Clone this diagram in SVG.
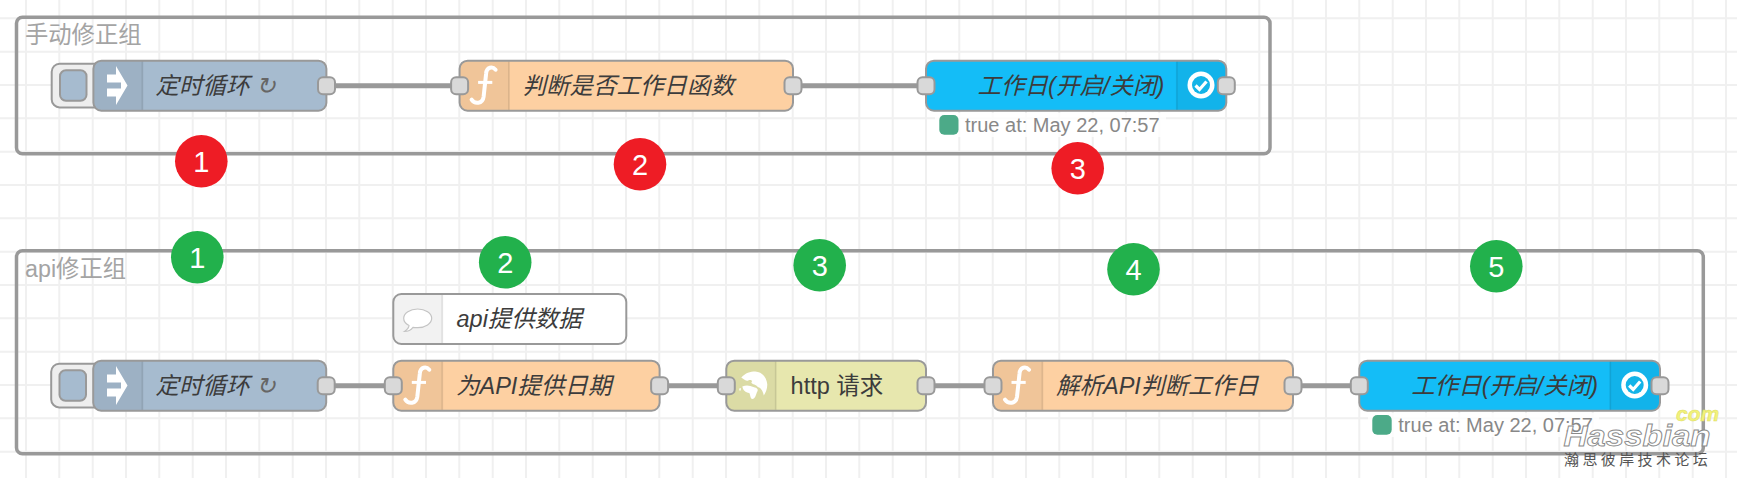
<svg xmlns="http://www.w3.org/2000/svg" width="1737" height="478" viewBox="0 0 1737 478">
<style>
text{font-family:"Liberation Sans","Noto Sans CJK SC",sans-serif}
.grid{stroke:#f0f0f0;stroke-width:2;fill:none}
.group{fill:none;stroke:#999;stroke-width:3.5}
.gl{font-size:23.3px;fill:#a4a4a4}
.node{stroke:#999;stroke-width:2}
.icon{fill:#000;fill-opacity:.05}
.div{stroke:#000;stroke-opacity:.1;stroke-width:1.7}
.lbl{font-size:23.5px;fill:#3c3c3c;font-style:italic}
.plain{font-style:normal}
.loop{fill:#666;font-weight:normal}
.port{fill:#d9d9d9;stroke:#999;stroke-width:2}
.wire{stroke:#999;stroke-width:5;fill:none}
.st{font-size:20px;fill:#888}
.stbg{fill:#fff;fill-opacity:.8}
.num{font-size:29px;fill:#fff;text-anchor:middle}
.red{fill:#ee1c25}
.green{fill:#22b14c}
.fn{fill:none;stroke:#fff;stroke-width:4;stroke-linecap:round}
.fb{fill:none;stroke:#fff;stroke-width:3}
</style>
<defs>
<g id="ficon"><path class="fn" d="M36 9C33 5.5 27 6 26.5 13L24 36C23 43.5 15 43.5 12 39"/><path class="fb" d="M18.5 21.7H32.7"/></g>
<path id="arrow" fill="#fff" d="M107 74.5H116V66L127.5 85.5L116 105V96.5H107V88.5H121V82.5H107Z"/>
<g id="check"><circle r="13.5" fill="#fff"/><circle r="9" fill="#14b4e8"/><path d="M-5.5 0.5L-1.5 4.5L5.5 -3.5" fill="none" stroke="#fff" stroke-width="3.2"/></g>
</defs>
<g id="grid" class="grid">
<path d="M26 0V478M59.3 0V478M92.7 0V478M126 0V478M159.3 0V478M192.7 0V478M226 0V478M259.3 0V478M292.7 0V478M326 0V478M359.3 0V478M392.7 0V478M426 0V478M459.3 0V478M492.7 0V478M526 0V478M559.3 0V478M592.7 0V478M626 0V478M659.3 0V478M692.7 0V478M726 0V478M759.3 0V478M792.7 0V478M826 0V478M859.3 0V478M892.7 0V478M926 0V478M959.3 0V478M992.7 0V478M1026 0V478M1059.3 0V478M1092.7 0V478M1126 0V478M1159.3 0V478M1192.7 0V478M1226 0V478M1259.3 0V478M1292.7 0V478M1326 0V478M1359.3 0V478M1392.7 0V478M1426 0V478M1459.3 0V478M1492.7 0V478M1526 0V478M1559.3 0V478M1592.7 0V478M1626 0V478M1659.3 0V478M1692.7 0V478M1726 0V478"/>
<path d="M0 18.3H1737M0 51.7H1737M0 85H1737M0 118.3H1737M0 151.7H1737M0 185H1737M0 218.3H1737M0 251.7H1737M0 285H1737M0 318.3H1737M0 351.7H1737M0 385H1737M0 418.3H1737M0 451.7H1737"/>
</g>
<g id="group-manual"><rect class="group" x="16.5" y="17.2" width="1253.5" height="136.5" rx="6"/><text class="gl" x="25" y="43">手动修正组</text></g>
<g id="group-api"><rect class="group" x="16.5" y="250.7" width="1686.8" height="203" rx="6"/><text class="gl" x="25" y="277">api修正组</text></g>
<g id="connectors">
<path class="wire" d="M326.5 85.7H459.6"/><path class="wire" d="M793 85.7H926"/>
<path class="wire" d="M326 385.7H393.3"/><path class="wire" d="M659.6 385.7H726.3"/><path class="wire" d="M926 385.7H993"/><path class="wire" d="M1293 385.7H1359.3"/>
</g>
<g id="n1-inject">
<rect class="node" x="51.7" y="63.8" width="60" height="43.6" rx="8" fill="#eee"/><rect class="node" x="60" y="70.3" width="26.5" height="30.4" rx="6" fill="#a6bbcf"/>
<rect class="node" x="93.4" y="60.7" width="233" height="50" rx="8" fill="#a6bbcf"/><path class="icon" d="M142.4 61.7H101.4a7 7 0 0 0-7 7V102.7a7 7 0 0 0 7 7H142.4Z"/><path class="div" d="M142.4 61.7V109.7"/><use href="#arrow"/>
<text class="lbl" x="155.5" y="94">定时循环 <tspan class="loop">↻</tspan></text><rect class="port" x="318" y="77.2" width="17" height="17" rx="5"/>
</g>
<g id="n2-function">
<rect class="node" x="459.6" y="60.7" width="333.4" height="50" rx="8" fill="#fdd0a2"/><path class="icon" d="M509 61.7H467.6a7 7 0 0 0-7 7V102.7a7 7 0 0 0 7 7H509Z"/><path class="div" d="M509 61.7V109.7"/><use href="#ficon" x="459.6" y="60.7"/>
<text class="lbl" x="522.5" y="94">判断是否工作日函数</text><rect class="port" x="451.1" y="77.2" width="17" height="17" rx="5"/><rect class="port" x="784.5" y="77.2" width="17" height="17" rx="5"/>
</g>
<g id="n3-switch">
<rect class="node" x="926" y="60.7" width="300.3" height="50" rx="8" fill="#14bdf7"/><path d="M1176.8 61.7H1218.3a7 7 0 0 1 7 7V102.7a7 7 0 0 1-7 7H1176.8Z" fill="#000" fill-opacity=".05"/><path class="div" d="M1176.8 61.7V109.7"/><use href="#check" x="1201" y="85"/>
<text class="lbl" x="977.6" y="94">工作日(开启/关闭)</text><rect class="port" x="917.5" y="77.2" width="17" height="17" rx="5"/><rect class="port" x="1217.8" y="77.2" width="17" height="17" rx="5"/>
<rect class="stbg" x="935" y="113" width="231" height="24"/><rect x="939.3" y="115" width="19.2" height="19.7" rx="5" fill="#4caa88"/><text class="st" x="965" y="132">true at: May 22, 07:57</text>
</g>
<g id="n4-comment">
<rect class="node" x="393.3" y="294" width="233" height="50" rx="8" fill="#fff"/><path class="icon" d="M442.3 295H401.3a7 7 0 0 0-7 7V336a7 7 0 0 0 7 7H442.3Z"/><path class="div" d="M442.3 295V343"/>
<path d="M404.5 331.5C408 329 409 327.5 409 325.5C405 323.5 403.7 321 403.7 318.3C403.7 313 410 309 417.7 309C425.4 309 431.7 313 431.7 318.3C431.7 323.5 425.4 327.6 417.7 327.6C415.5 327.6 414.5 327.6 413 327.4C411 330 408 331.5 404.5 331.5Z" fill="#fff" stroke="#c4c4c4" stroke-width="1.2"/>
<text class="lbl" x="456.5" y="327">api提供数据</text>
</g>
<g id="n5-inject">
<rect class="node" x="51.2" y="363.8" width="60" height="43.6" rx="8" fill="#eee"/><rect class="node" x="59.5" y="370.3" width="26.5" height="30.4" rx="6" fill="#a6bbcf"/>
<rect class="node" x="93.2" y="360.7" width="233" height="50" rx="8" fill="#a6bbcf"/><path class="icon" d="M142.4 361.7H101.2a7 7 0 0 0-7 7V402.7a7 7 0 0 0 7 7H142.4Z"/><path class="div" d="M142.4 361.7V409.7"/><use href="#arrow" y="300"/>
<text class="lbl" x="155.5" y="394">定时循环 <tspan class="loop">↻</tspan></text><rect class="port" x="317.7" y="377.2" width="17" height="17" rx="5"/>
</g>
<g id="n6-function">
<rect class="node" x="393.3" y="360.7" width="266.3" height="50" rx="8" fill="#fdd0a2"/><path class="icon" d="M442.3 361.7H401.3a7 7 0 0 0-7 7V402.7a7 7 0 0 0 7 7H442.3Z"/><path class="div" d="M442.3 361.7V409.7"/><use href="#ficon" x="393.3" y="360.7"/>
<text class="lbl" x="456" y="394">为API提供日期</text><rect class="port" x="384.8" y="377.2" width="17" height="17" rx="5"/><rect class="port" x="651.1" y="377.2" width="17" height="17" rx="5"/>
</g>
<g id="n7-http">
<rect class="node" x="726.3" y="360.7" width="199.7" height="50" rx="8" fill="#e7e7ae"/><path class="icon" d="M775.7 361.7H734.3a7 7 0 0 0-7 7V402.7a7 7 0 0 0 7 7H775.7Z"/><path class="div" d="M775.7 361.7V409.7"/>
<g transform="translate(753.3 385.5)" fill="#fff"><path d="M-12-8C-8-12.500-3-14 2-14C9-13.500 13.500-8 14-1C14 3 12.500 7 10.500 10C9.500 5.500 8 2.500 4.500 1.500C3-1-1-1-2-3C0-5-3-6-5-5C-7-4-9-6-12-8Z"/><path d="M-11 1C-7-1-3 0 0 1.500C4.500 2.500 5.500 4 3.500 7C2.500 10 1.500 13.500-1 13.500C-3 13.500-3 9-4 7.500C-8 7-10 5-11 1Z"/><path d="M-14 3L-12.500 2.500L-12.500 5L-14 5Z"/></g>
<text class="lbl plain" x="790.6" y="394">http 请求</text><rect class="port" x="717.8" y="377.2" width="17" height="17" rx="5"/><rect class="port" x="917.5" y="377.2" width="17" height="17" rx="5"/>
</g>
<g id="n8-function">
<rect class="node" x="993" y="360.7" width="300" height="50" rx="8" fill="#fdd0a2"/><path class="icon" d="M1042.4 361.7H1001a7 7 0 0 0-7 7V402.7a7 7 0 0 0 7 7H1042.4Z"/><path class="div" d="M1042.4 361.7V409.7"/><use href="#ficon" x="993" y="360.7"/>
<text class="lbl" x="1056" y="394">解析API判断工作日</text><rect class="port" x="984.5" y="377.2" width="17" height="17" rx="5"/><rect class="port" x="1284.5" y="377.2" width="17" height="17" rx="5"/>
</g>
<g id="n9-switch">
<rect class="node" x="1359.3" y="360.7" width="300.7" height="50" rx="8" fill="#14bdf7"/><path d="M1610.3 361.7H1652a7 7 0 0 1 7 7V402.7a7 7 0 0 1-7 7H1610.3Z" fill="#000" fill-opacity=".05"/><path class="div" d="M1610.3 361.7V409.7"/><use href="#check" x="1634.7" y="385"/>
<text class="lbl" x="1411.3" y="394">工作日(开启/关闭)</text><rect class="port" x="1350.8" y="377.2" width="17" height="17" rx="5"/><rect class="port" x="1651.5" y="377.2" width="17" height="17" rx="5"/>
<rect class="stbg" x="1368" y="413" width="231" height="24"/><rect x="1372.3" y="415" width="19.4" height="19.7" rx="5" fill="#4caa88"/><text class="st" x="1398.3" y="432">true at: May 22, 07:57</text>
</g>
<g id="badges-red">
<circle class="red" cx="201.3" cy="161.3" r="26.3"/><text class="num" x="201.3" y="171.5">1</text>
<circle class="red" cx="640" cy="164.3" r="26.3"/><text class="num" x="640" y="174.5">2</text>
<circle class="red" cx="1077.7" cy="168.3" r="26.3"/><text class="num" x="1077.7" y="178.5">3</text>
</g>
<g id="badges-green">
<circle class="green" cx="197.3" cy="257.3" r="26.3"/><text class="num" x="197.3" y="267.5">1</text>
<circle class="green" cx="505.2" cy="262.3" r="26.3"/><text class="num" x="505.2" y="272.5">2</text>
<circle class="green" cx="819.7" cy="265.3" r="26.3"/><text class="num" x="819.7" y="275.5">3</text>
<circle class="green" cx="1133.5" cy="269.3" r="26.3"/><text class="num" x="1133.5" y="279.5">4</text>
<circle class="green" cx="1496.3" cy="266.3" r="26.3"/><text class="num" x="1496.3" y="276.5">5</text>
</g>
<g id="watermark">
<text x="1563.5" y="446" font-size="29" font-style="italic" font-weight="bold" textLength="147" lengthAdjust="spacingAndGlyphs" fill="#fff" stroke="#8a8a8a" stroke-width="0.9">Hassbian</text>
<text x="1676" y="421" font-size="21" font-style="italic" font-weight="bold" fill="#f2f27a" stroke="#dcdc66" stroke-width="0.5">com</text>
<text x="1564" y="465" font-size="15" letter-spacing="3.4" fill="#555">瀚思彼岸技术论坛</text>
</g>
</svg>
